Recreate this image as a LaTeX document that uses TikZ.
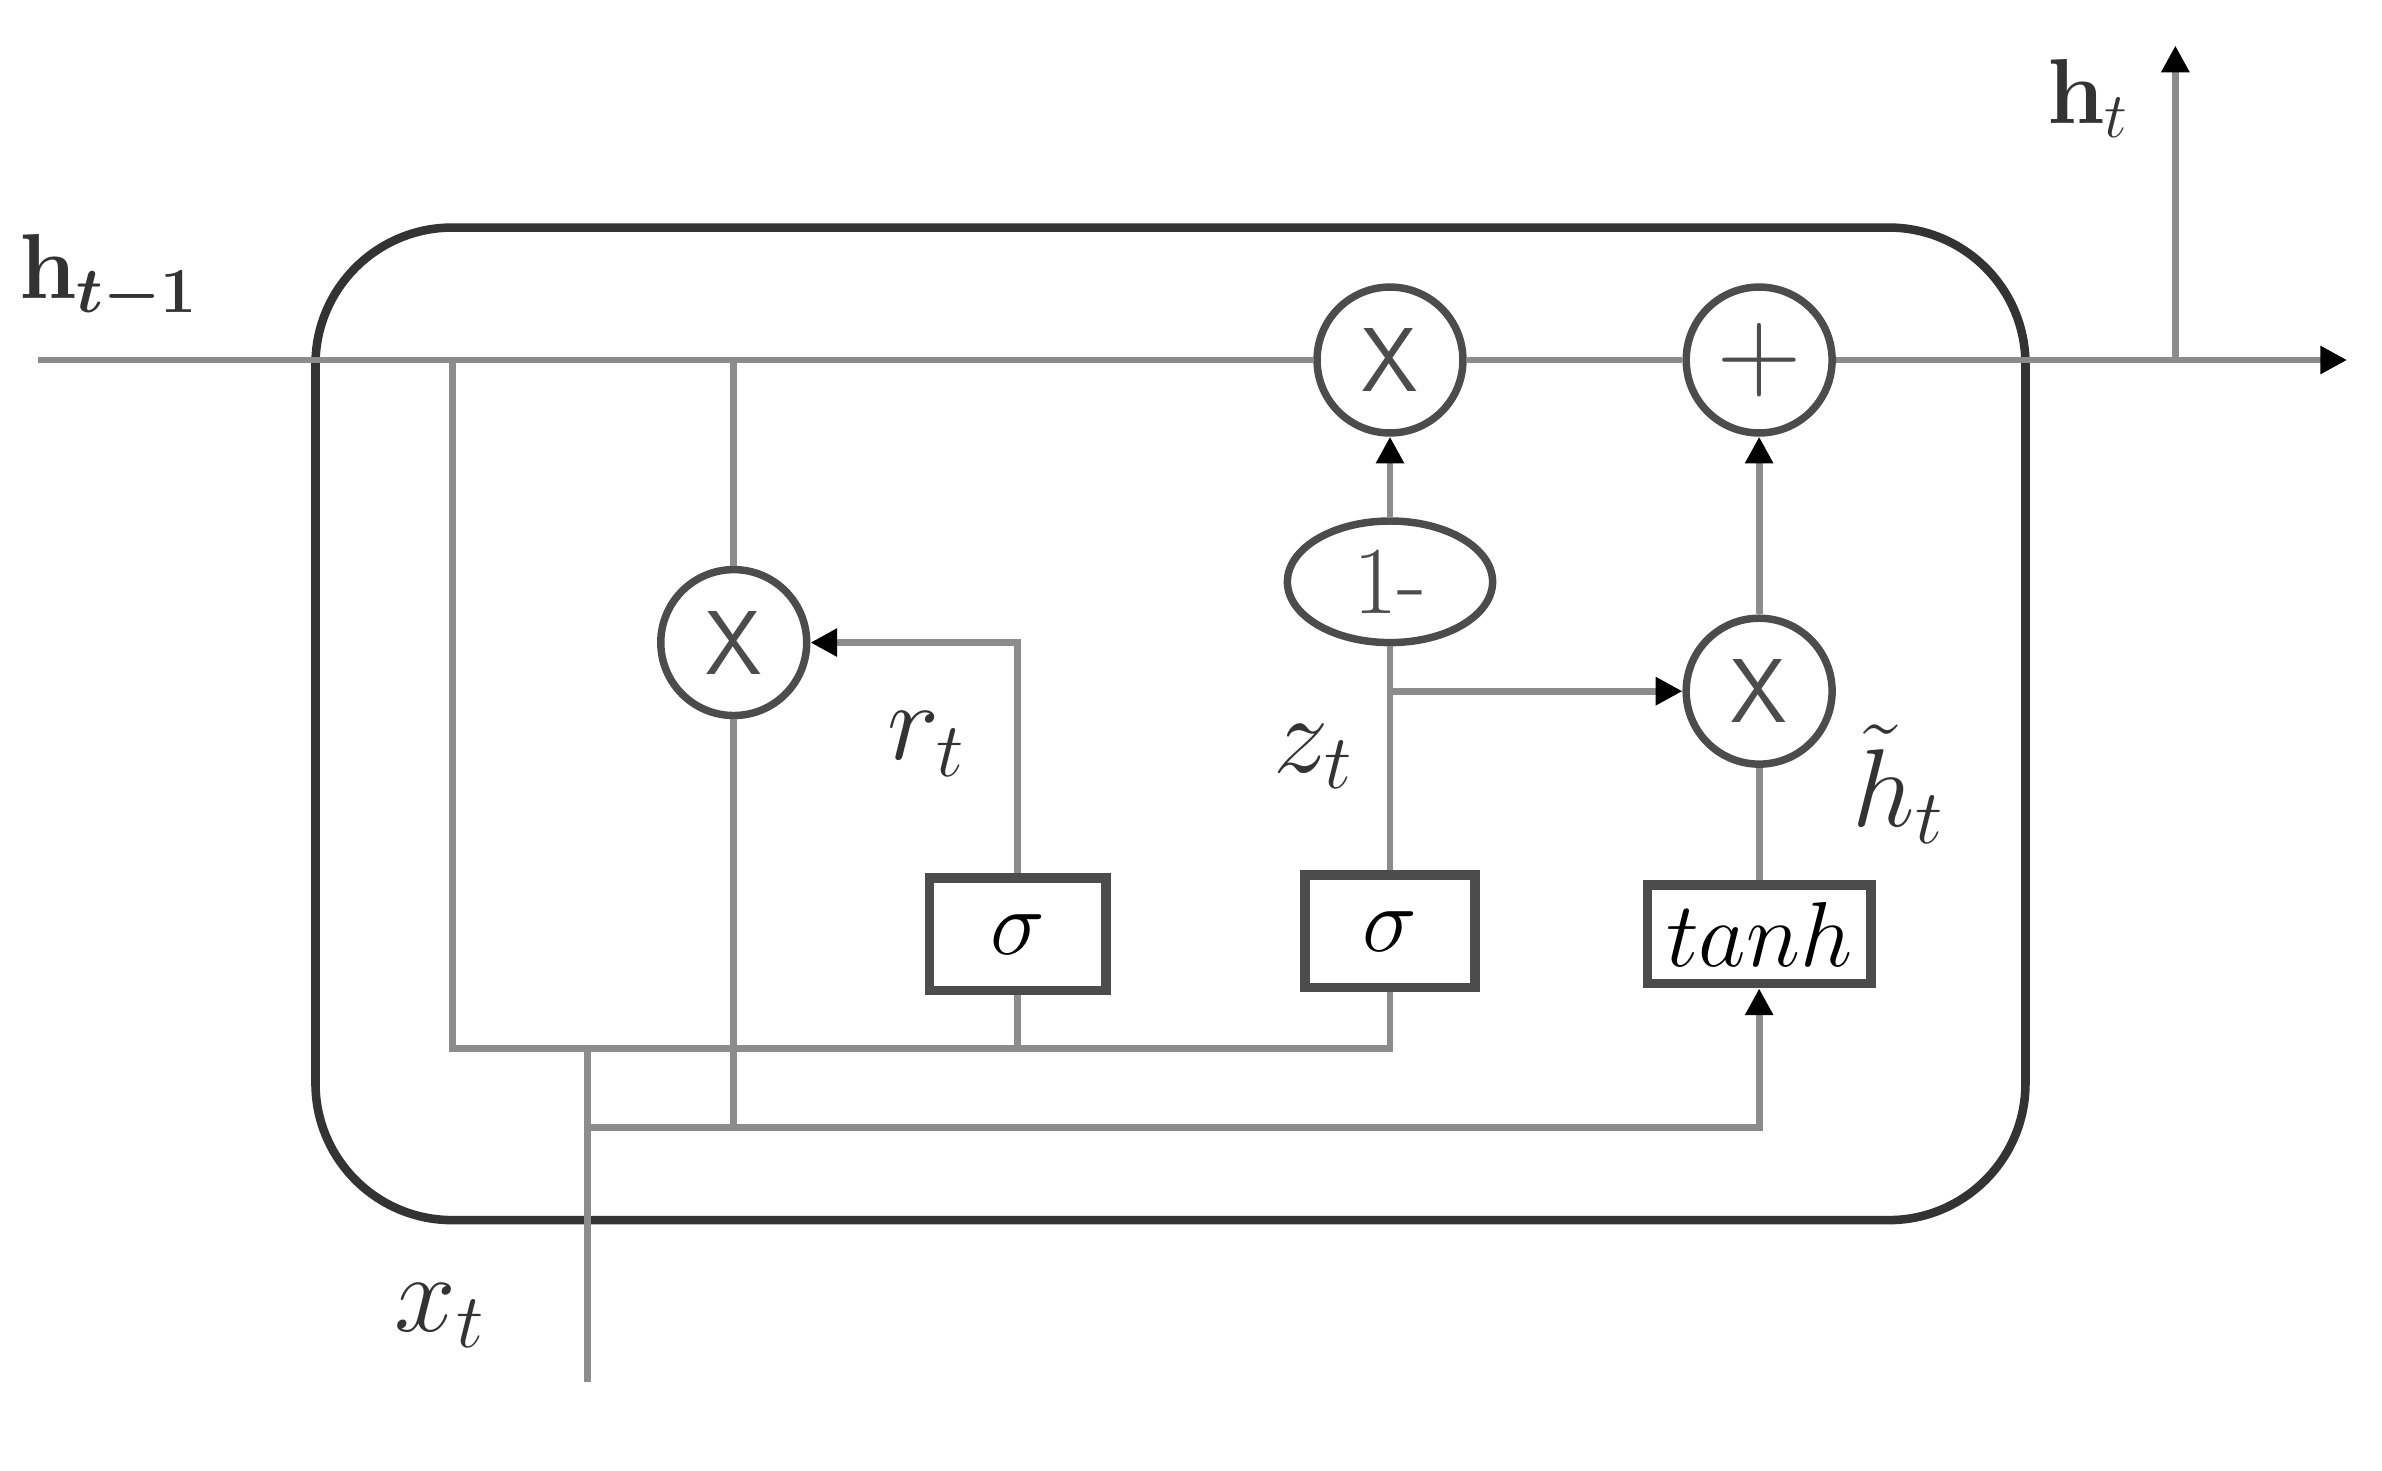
\documentclass[tikz,border=0pt]{standalone}
\usepackage{amsmath,bm}
\usetikzlibrary{arrows.meta,shapes.geometric}
\begin{document}
\begin{tikzpicture}[x=0.01cm,y=-0.01cm,
  conn/.style={draw=black!45, line width=1.3pt},
  arr/.style={conn, -{Triangle[length=5pt,width=5pt,color=black]}},
  op/.style={circle, draw=black!70, line width=1.4pt, minimum size=0.96cm, inner sep=0pt, fill=white, text=black!70, font=\sffamily\fontsize{17}{17}\selectfont},
  gatebox/.style={rectangle, draw=black!70, line width=1.8pt, inner sep=0pt, fill=white, font=\fontsize{19}{19}\selectfont},
  lbl/.style={font=\fontsize{20}{20}\selectfont, text=black!80, inner sep=1pt}
]
\useasboundingbox (0,0) rectangle (1568,968);
\fill[white] (0,0) rectangle (1568,968);

% cell
\node[draw=black!80, line width=1.6pt, rounded corners=0.9cm, minimum width=11.25cm, minimum height=6.53cm, inner sep=0pt] (cell) at (770.5,476.5) {};

% operators and gates
\node[op] (m1) at (915,237) {X};
\node[op, font=\sffamily\fontsize{22}{22}\selectfont] (add) at (1158,237) {+};
\node[ellipse, draw=black!70, line width=1.4pt, minimum width=1.35cm, minimum height=0.8cm, inner sep=0pt, fill=white, text=black!70, font=\fontsize{18}{18}\selectfont] (om) at (915,383) {1-};
\node[op] (mr) at (483,423) {X};
\node[op] (mz) at (1158,455) {X};
\node[gatebox, minimum width=1.16cm, minimum height=0.74cm] (s1) at (670,615) {$\sigma$};
\node[gatebox, minimum width=1.12cm, minimum height=0.74cm] (s2) at (915,613) {$\sigma$};
\node[gatebox, minimum width=1.47cm, minimum height=0.65cm] (th) at (1158,615) {$tanh$};

% coordinates
\coordinate (in) at (25,237);
\coordinate (out) at (1545,237);
\coordinate (split) at (1432,237);
\coordinate (up) at (1432,30);
\coordinate (b1) at (298,237);
\coordinate (b1d) at (298,690);
\coordinate (c2) at (915,690);
\coordinate (c1) at (670,690);
\coordinate (xin) at (387,910);
\coordinate (xa) at (387,690);
\coordinate (xb) at (387,742);
\coordinate (b2) at (483,237);
\coordinate (rb) at (483,742);
\coordinate (zj) at (915,455);

% main line
\draw[conn] (in) -- (m1);
\draw[conn] (m1) -- (add);
\draw[arr] (add) -- (out);
\draw[arr] (split) -- (up);

% left branch to sigmas
\draw[conn] (b1) -- (b1d) -- (c2) -- (s2);
\draw[conn] (s1) -- (c1);
\draw[conn] (xin) -- (xa);

% reset path
\draw[conn] (b2) -- (mr);
\draw[conn] (mr) -- (rb);
\draw[arr] (s1.north) |- (mr.east);
\draw[arr] (xb) -| (th.south);

% update path
\draw[conn] (s2) -- (om);
\draw[arr] (om) -- (m1);
\draw[arr] (zj) -- (mz);
\draw[conn] (th) -- (mz);
\draw[arr] (mz) -- (add);

% labels
\node[lbl, font=\fontsize{18}{18}\selectfont] (lhp) at (72,183) {$\mathbf{h}_{\bm{t-1}}$};
\node[lbl, font=\fontsize{18}{18}\selectfont] (lhn) at (1375,65) {$\mathbf{h}_t$};
\node[lbl] (lr) at (610,490) {$r_t$};
\node[lbl] (lz) at (865,498) {$z_t$};
\node[lbl] (lh) at (1250,516) {$\tilde{h}_t$};
\node[lbl] (lx) at (290,866) {$x_t$};
\end{tikzpicture}
\end{document}
